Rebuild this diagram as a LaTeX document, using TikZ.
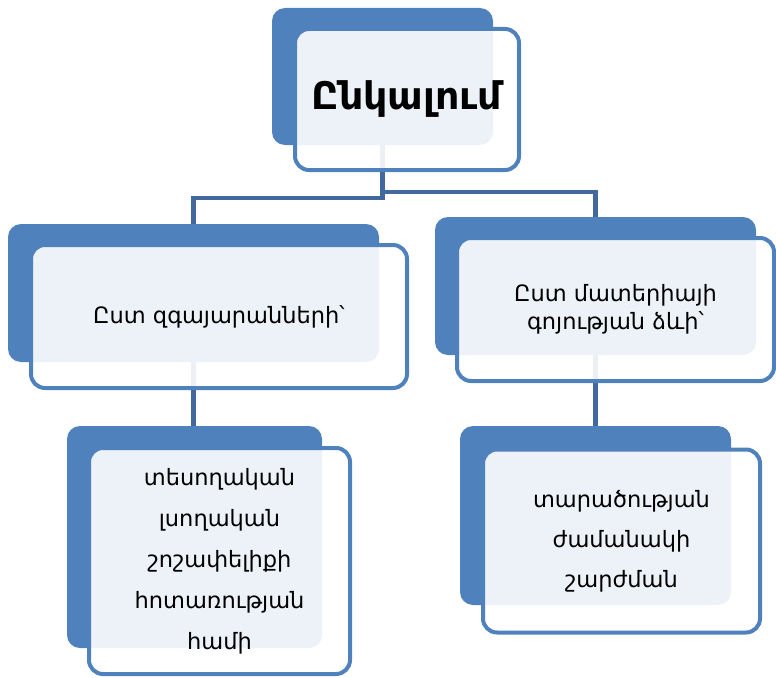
\documentclass[tikz,border=0pt]{standalone}
\usepackage{fontspec}
\setmainfont{DejaVu Sans}
\usetikzlibrary{positioning}
\definecolor{accent}{HTML}{4F81BD}
\definecolor{linkblue}{HTML}{41699D}
\pgfdeclarelayer{bg}
\pgfsetlayers{bg,main}
\tikzset{
  backbox/.style={rectangle, rounded corners=13pt, fill=accent, draw=none, inner sep=0pt},
  frontbox/.style={rectangle, rounded corners=14pt, draw=accent, line width=4pt,
    fill=white, fill opacity=0.9, text opacity=1, align=center, inner sep=0pt},
  link/.style={draw=linkblue, line width=4.5pt},
}
\begin{document}
\begin{tikzpicture}[x=1pt, y=-1pt]
  \useasboundingbox (0,0) rectangle (776,677);

  % back plates
  \node[backbox, minimum width=221pt, minimum height=137pt] (topB) at (382.5,76.5) {};
  \node[backbox, minimum width=371pt, minimum height=138pt] (lmB) at (193.5,293) {};
  \node[backbox, minimum width=321pt, minimum height=138pt] (rmB) at (595.5,286) {};
  \node[backbox, minimum width=255pt, minimum height=222pt] (blB) at (194.5,537) {};
  \node[backbox, minimum width=271pt, minimum height=179pt] (brB) at (595.5,515.5) {};

  % connectors, kept beneath the boxes
  \begin{pgfonlayer}{bg}
    \draw[link] (topB.south) -- ++(0,53) -| (lmB.north);
    \draw[link] (topB.south) -- ++(0,47) -| (rmB.north);
    \draw[link] (lmB.south) -- (lmB.south |- blB.north);
    \draw[link] (rmB.south) -- (rmB.south |- brB.north);
  \end{pgfonlayer}

  % front cards with text
  \node[frontbox, minimum width=224pt, minimum height=141pt, font=\bfseries\fontsize{38}{44}\selectfont] (topF) at (407,99.5) {Ընկալում};
  \node[frontbox, minimum width=376pt, minimum height=143pt, font=\fontsize{22.5}{27}\selectfont] (lmF) at (219,316.5) {Ըստ զգայարանների՝};
  \node[frontbox, minimum width=317pt, minimum height=143pt, font=\fontsize{22.5}{28}\selectfont] (rmF) at (615.5,309.5) {Ըստ մատերիայի\\գոյության ձևի՝};
  \node[frontbox, minimum width=261pt, minimum height=226pt, font=\fontsize{22.5}{41}\selectfont] (blF) at (219.5,561) {տեսողական\\լսողական\\շոշափելիքի\\հոտառության\\համի};
  \node[frontbox, minimum width=277pt, minimum height=183pt, font=\fontsize{22.5}{40}\selectfont] (brF) at (621.5,541) {տարածության\\ժամանակի\\շարժման};
\end{tikzpicture}
\end{document}
